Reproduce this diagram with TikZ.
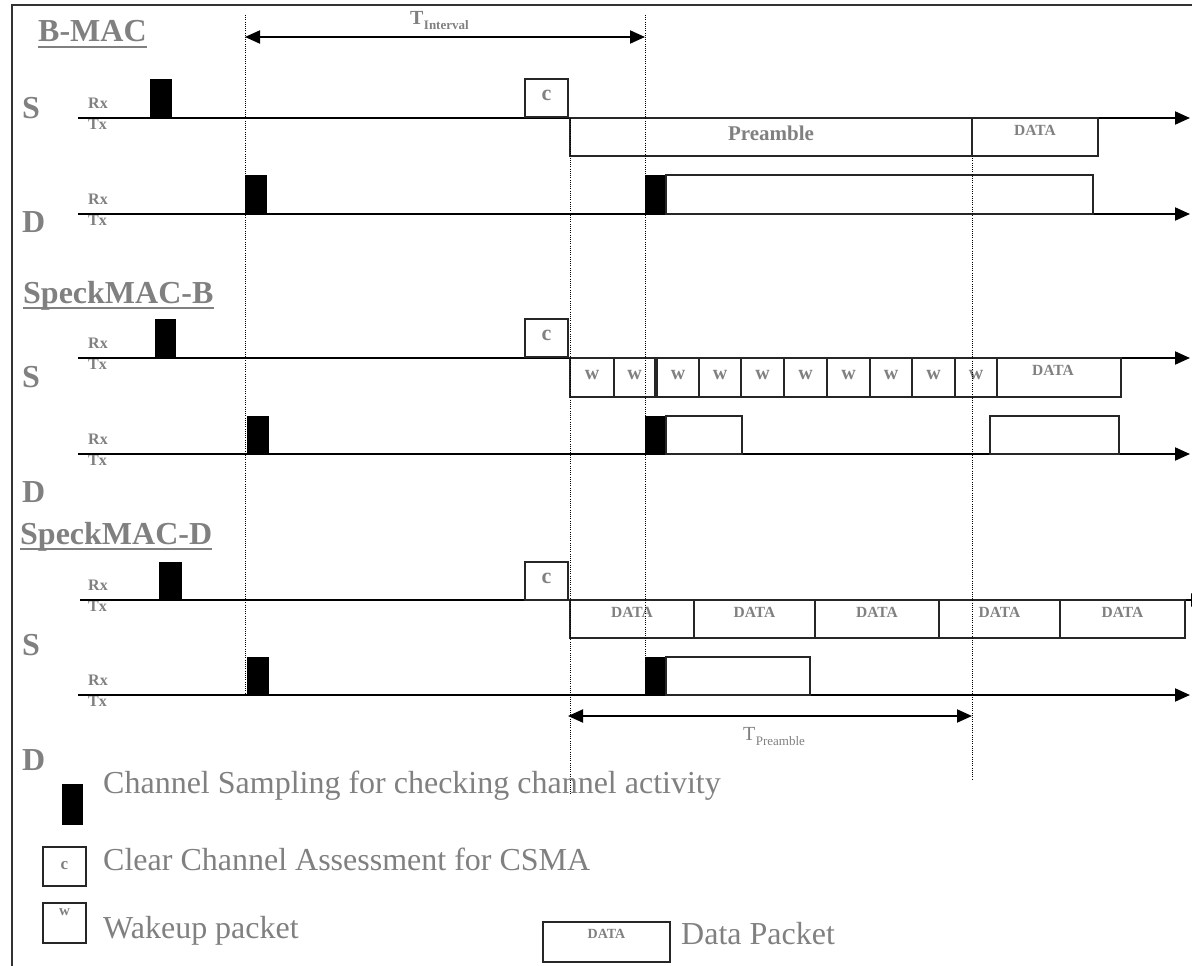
\documentclass[tikz,border=0pt]{standalone}
\usepackage{fontspec}
\setmainfont{Liberation Serif}
\usetikzlibrary{arrows.meta,fit}
\definecolor{tg}{RGB}{128,128,128}
\newcommand\fs[1]{\fontsize{#1}{#1}\selectfont}
\newcommand\mkrxtx[2]{%
  \node[rxtx] (#1rx) at (88,{#2-10}) {Rx};
  \node[rxtx] (#1tx) at (88,{#2+11}) {Tx};}
\begin{document}
\begin{tikzpicture}[x=1pt,y=-1pt,
  lbl/.style={text=tg, inner sep=0, anchor=base west},
  big/.style={lbl, font=\fs{32}\bfseries},
  rxtx/.style={lbl, font=\fs{16}\bfseries},
  leg/.style={lbl, font=\fs{32}},
  tl/.style={line width=2pt, -{Triangle[length=15pt,width=13pt]}},
  dim/.style={line width=2pt, {Triangle[length=15pt,width=13pt]}-{Triangle[length=15pt,width=13pt]}},
  samp/.style={fill=black, draw=black, line width=0.5pt, inner sep=0},
  pkt/.style={draw=black!85, line width=1.6pt, inner sep=0},
  ctxt/.style={text=tg, inner sep=0, font=\fs{22}\bfseries},
  wtxt/.style={text=tg, inner sep=0, font=\fs{20}\bfseries},
  dtxt/.style={text=tg, inner sep=0, font=\fs{15.5}\bfseries},
  vdot/.style={line width=0.9pt, dash pattern=on 1pt off 1.2pt},
  ul/.style={tg, line width=2pt}]
\useasboundingbox (0,0) rectangle (1192,966);
% frame
\coordinate (fr1) at (12,966); \coordinate (fr2) at (12,5); \coordinate (fr3) at (1192,5);
\draw[line width=2pt, black!80] (fr1) -- (fr2) -- (fr3);

% ================= B-MAC =================
\node[big] (t1) at (38,42) {B-MAC};
\draw[ul] ([yshift=-5pt]t1.base west) -- ([yshift=-5pt]t1.base east);
\node[big] (bS) at (22,118) {S};
\node[big] (bD) at (22,232) {D};
\mkrxtx{bs}{118}
\mkrxtx{bd}{214}
\coordinate (bs0) at (78,118); \coordinate (bs1) at (1190,118);
\coordinate (bd0) at (78,214); \coordinate (bd1) at (1190,214);
\draw[tl] (bs0) -- (bs1);
\draw[tl] (bd0) -- (bd1);
\node[samp, fit={(150,79) (171,118)}] (bsamp) {};
\node[samp, fit={(245,175) (266,214)}] (bdsamp) {};
\node[samp, fit={(645,175) (666,214)}] (bdsamp2) {};
\node[pkt, fit={(525,79) (568,117)}] (bc) {};
\node[ctxt] at ([yshift=3pt]bc.center) {c};
\node[pkt, fit={(570,118) (972,156)}] (bpre) {};
\node[text=tg, inner sep=0, font=\fs{21}\bfseries] (bpret) at (771,133) {Preamble};
\node[pkt, fit={(972,118) (1098,156)}] (bdata) {};
\node[dtxt] (bdatat) at (1035,130) {DATA};
\node[pkt, fit={(666,175) (1093,214)}] (bdrx) {};
% T interval
\coordinate (ti0) at (245,37); \coordinate (ti1) at (645,37);
\draw[dim] (ti0) -- (ti1);
\node[lbl, font=\fs{20}\bfseries] (tiT) at (410,25) {T};
\node[lbl, font=\fs{13}\bfseries] (tiS) at (tiT.base east) [yshift=-5pt] {Interval};

% ================= SpeckMAC-B =================
\node[big] (t2) at (23,303) {SpeckMAC-B};
\draw[ul] ([yshift=-5pt]t2.base west) -- ([yshift=-5pt]t2.base east);
\node[big] (sbS) at (22,387) {S};
\node[big] (sbD) at (22,502) {D};
\mkrxtx{sbs}{358}
\mkrxtx{sbd}{454}
\coordinate (sbs0) at (78,358); \coordinate (sbs1) at (1190,358);
\coordinate (sbd0) at (78,454); \coordinate (sbd1) at (1190,454);
\draw[tl] (sbs0) -- (sbs1);
\draw[tl] (sbd0) -- (sbd1);
\node[samp, fit={(155,319) (175,358)}] (sbsamp) {};
\node[samp, fit={(247,416) (268,454)}] (sbdsamp) {};
\node[samp, fit={(645,416) (666,454)}] (sbdsamp2) {};
\node[pkt, fit={(525,319) (568,357)}] (sbc) {};
\node[ctxt] at ([yshift=3pt]sbc.center) {c};
\foreach \a/\b [count=\i] in {570/614,614/655,657/699,699/741,741/784,784/827,827/870,870/912,912/955,955/997}{
  \node[pkt, fit={(\a,358) (\b,397)}] (w\i) {};
  \node[wtxt] (w\i t) at ([yshift=2pt]w\i.center) {w};
}
\node[pkt, fit={(997,358) (1121,397)}] (sbdata) {};
\node[dtxt] (sbdatat) at (1053,370) {DATA};
\node[pkt, fit={(666,416) (742,454)}] (sbrx1) {};
\node[pkt, fit={(990,416) (1119,454)}] (sbrx2) {};

% ================= SpeckMAC-D =================
\node[big] (t3) at (20,544) {SpeckMAC-D};
\draw[ul] ([yshift=-5pt]t3.base west) -- ([yshift=-5pt]t3.base east);
\node[big] (sdS) at (22,655) {S};
\node[big] (sdD) at (22,770) {D};
\mkrxtx{sds}{600}
\mkrxtx{sdd}{695}
\coordinate (sds0) at (80,600); \coordinate (sds1) at (1206,600);
\coordinate (sdd0) at (78,695); \coordinate (sdd1) at (1190,695);
\draw[tl] (sds0) -- (sds1);
\draw[tl] (sdd0) -- (sdd1);
\node[samp, fit={(159,562) (181,600)}] (sdsamp) {};
\node[samp, fit={(247,657) (268,695)}] (sddsamp) {};
\node[samp, fit={(645,657) (666,695)}] (sddsamp2) {};
\node[pkt, fit={(525,562) (568,600)}] (sdc) {};
\node[ctxt] at ([yshift=3pt]sdc.center) {c};
\foreach \a/\b [count=\i] in {570/694,694/815,815/939,939/1060,1060/1185}{
  \node[pkt, fit={(\a,600) (\b,638)}] (d\i) {};
  \node[dtxt] (d\i t) at ([yshift=7pt]d\i.center) {DATA};
}
\node[pkt, fit={(666,657) (810,695)}] (sdrx) {};
% T preamble
\coordinate (tp0) at (568,716); \coordinate (tp1) at (972,716);
\draw[dim] (tp0) -- (tp1);
\node[lbl, font=\fs{20}] (tpT) at (743,740) {T};
\node[lbl, font=\fs{13}] (tpS) at (tpT.base east) [yshift=-5pt] {Preamble};

% dotted verticals
\coordinate (v1a) at (245,15); \coordinate (v1b) at (245,695);
\coordinate (v2a) at (645,15); \coordinate (v2b) at (645,695);
\coordinate (v3a) at (570,118); \coordinate (v3b) at (570,795);
\coordinate (v4a) at (972,156); \coordinate (v4b) at (972,780);
\draw[vdot] (v1a) -- (v1b);
\draw[vdot] (v2a) -- (v2b);
\draw[vdot] (v3a) -- (v3b);
\draw[vdot] (v4a) -- (v4b);

% ================= legend =================
\node[samp, fit={(62,784) (82,824)}] (lsamp) {};
\node[leg] (lsampt) at (103,793) {Channel Sampling for checking channel activity};
\node[pkt, fit={(43,847) (86,886)}] (lc) {};
\node[text=tg, inner sep=0, font=\fs{17}\bfseries] at ([yshift=1pt]lc.center) {c};
\node[leg] (lct) at (103,870) {Clear Channel Assessment for CSMA};
\node[pkt, fit={(43,903) (86,943)}] (lw) {};
\node[text=tg, inner sep=0, font=\fs{15}\bfseries] at ([yshift=11pt]lw.center) {w};
\node[leg] (lwt) at (103,938) {Wakeup packet};
\node[pkt, fit={(543,922) (670,962)}] (ld) {};
\node[text=tg, inner sep=0, font=\fs{14}\bfseries] at ([yshift=8pt]ld.center) {DATA};
\node[leg] (ldt) at (681,944) {Data Packet};
\end{tikzpicture}
\end{document}
